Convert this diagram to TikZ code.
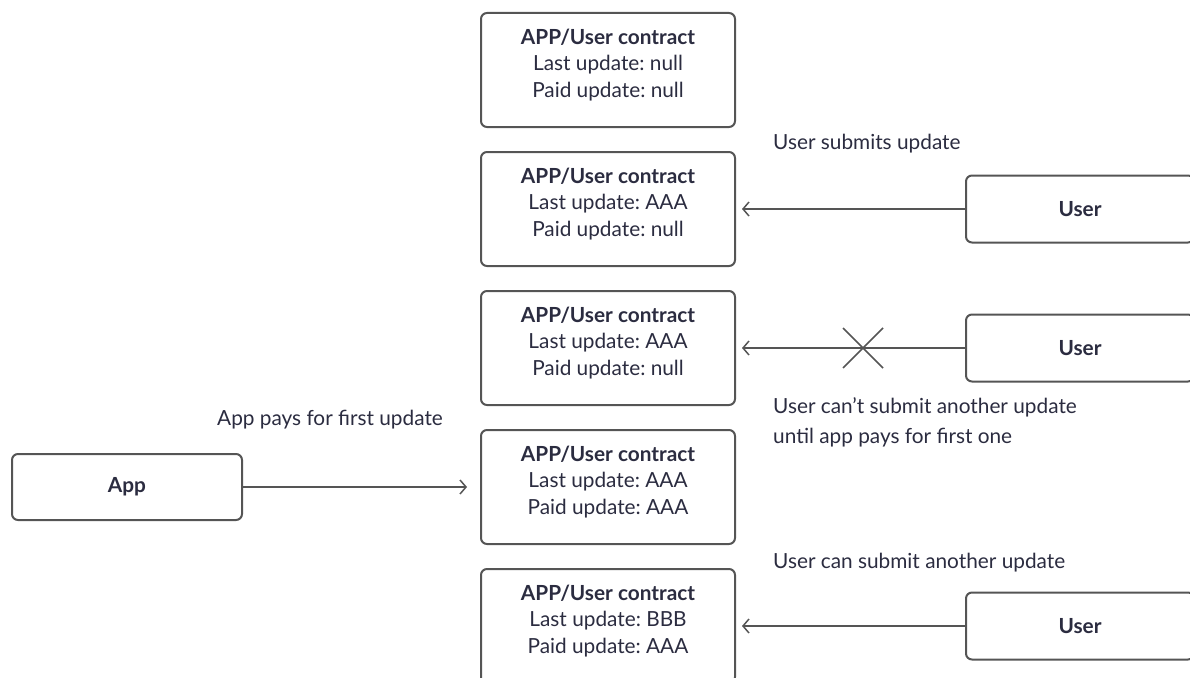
\documentclass[tikz,border=0pt]{standalone}
\usepackage{fontspec}
\setmainfont{Lato}
\usetikzlibrary{arrows.meta,positioning}
\definecolor{ink}{HTML}{2B2C40}
\definecolor{edge}{HTML}{555555}
\frenchspacing
\begin{document}
\begin{tikzpicture}[x=1pt,y=-1pt]
\fontsize{20.8pt}{26.5pt}\selectfont
\tikzset{
    contract/.style={draw=edge, line width=2pt, rounded corners=6pt, minimum width=254pt, minimum height=114pt, inner sep=0pt},
    contracttext/.style={align=center, text=ink, inner sep=0pt, yshift=5pt},
    actor/.style={draw=edge, line width=2pt, rounded corners=6pt, minimum width=228pt, minimum height=67pt, text=ink, font=\bfseries},
    note/.style={text=ink, inner sep=0pt, align=left},
    msg/.style={draw=edge, line width=1.5pt, -{Straight Barb[length=6pt,width=14pt]}},
}
\useasboundingbox (0,0) rectangle (1190,677);

% The contract states, top to bottom.
\node[contract] (c1) at (608,70)  {};
\node[contract] (c2) at (608,209) {};
\node[contract] (c3) at (608,348) {};
\node[contract] (c4) at (608,487) {};
\node[contract] (c5) at (608,626) {};
\node[contracttext] (t1) at (c1) {\textbf{APP/User contract}\\Last update: null\\Paid update: null};
\node[contracttext] (t2) at (c2) {\textbf{APP/User contract}\\Last update: AAA\\Paid update: null};
\node[contracttext] (t3) at (c3) {\textbf{APP/User contract}\\Last update: AAA\\Paid update: null};
\node[contracttext] (t4) at (c4) {\textbf{APP/User contract}\\Last update: AAA\\Paid update: AAA};
\node[contracttext] (t5) at (c5) {\textbf{APP/User contract}\\Last update: BBB\\Paid update: AAA};

% The actors.
\node[actor] (user1) at (1080,209) {User};
\node[actor] (user2) at (1080,348) {User};
\node[actor] (user3) at (1080,626) {User};
\node[actor, minimum width=230pt, minimum height=66pt] (app) at (127,487) {App};

% Messages.
\draw[msg] (user1.west) -- ([xshift=6pt]c2.east);
\draw[msg] (user2.west) -- ([xshift=6pt]c3.east);
\draw[msg] (app.east)   -- ([xshift=-13pt]c4.west);
\draw[msg] (user3.west) -- ([xshift=6pt]c5.east);

% Blocked second update.
\coordinate (block) at (863,348);
\draw[edge, line width=1.5pt] ([shift={(-20,-20)}]block) -- ([shift={(20,20)}]block)
                              ([shift={(-20,20)}]block) -- ([shift={(20,-20)}]block);

% Notes.
\node[note, anchor=west] (n1) at (773,144) {User submits update};
\node[note, anchor=west, font=\fontsize{20.8pt}{30pt}\selectfont] (n2) at (773,422) {User can’t submit another update\\until app pays for first one};
\node[note] (n3) at (330,420) {App pays for first update};
\node[note, anchor=west] (n4) at (773,563) {User can submit another update};
\end{tikzpicture}
\end{document}
